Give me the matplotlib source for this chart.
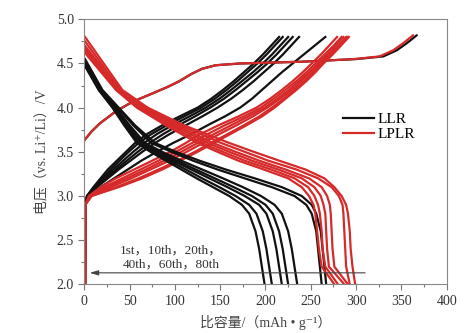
import matplotlib
matplotlib.use("Agg")
import matplotlib.pyplot as plt
from matplotlib.ticker import MultipleLocator

plt.rcParams['font.family'] = ['Liberation Serif', 'Noto Sans CJK SC', 'DejaVu Serif']

# ── Data ──────────────────────────────────────────────────────────────────────

# first charge (4.5 V plateau), capacity / voltage
first_chg_v = [3.63, 3.73, 3.82, 3.96, 4.07, 4.16, 4.23, 4.30, 4.38, 4.44, 4.48,
               4.50, 4.52, 4.55, 4.58, 4.65, 4.73, 4.82]
llr_first_chg_cap = [0, 8, 17, 35, 54, 75, 91, 105, 118, 130, 145,
                     172, 240, 300, 330, 345, 356, 367]
lplr_first_chg_cap = [0, 8, 17, 35, 54, 75, 91, 105, 118, 130, 145,
                      172, 240, 298, 326, 341, 352, 363]

# later charges: capacity at each voltage of chg_v
chg_v = [2.0, 2.9, 3.0, 3.1, 3.2, 3.3, 3.4, 3.5, 3.6, 3.7, 3.8, 3.9,
         4.0, 4.1, 4.2, 4.3, 4.4, 4.5, 4.6, 4.7, 4.8]
llr_chg_cap = [
    [0.8, 1, 3, 10, 18, 26, 36, 46, 56, 69, 86, 105, 125, 140, 153, 165, 176, 187, 197, 206, 215],
    [0.8, 1, 3, 11, 20, 29, 39, 49, 60, 74, 91, 110, 129, 144, 157, 169, 180, 191, 201, 210, 219],
    [0.8, 1, 3, 12, 22, 32, 43, 54, 66, 80, 97, 116, 134, 149, 162, 174, 186, 197, 207, 216, 225],
    [0.8, 1, 4, 13, 24, 35, 47, 59, 72, 87, 104, 122, 139, 154, 167, 179, 191, 202, 212, 221, 230],
    [0.8, 1, 4, 14, 26, 38, 51, 64, 78, 94, 112, 130, 147, 162, 175, 187, 198, 209, 219, 228, 237],
    [0.8, 1, 5, 18, 33, 48, 63, 80, 98, 118, 136, 155, 172, 185, 196, 207, 218, 230, 242, 254, 266],
]
lplr_chg_cap = [
    [0.8, 1, 5, 18, 35, 55, 75, 95, 112, 128, 148, 170, 190, 205, 218, 230, 241, 251, 261, 270, 279],
    [0.8, 1, 6, 22, 42, 62, 82, 101, 119, 136, 155, 176, 195, 209, 222, 234, 245, 255, 265, 275, 284],
    [0.8, 1, 6, 25, 47, 68, 88, 107, 125, 143, 162, 181, 199, 213, 226, 237, 248, 258, 268, 277, 286],
    [0.8, 1, 7, 29, 52, 73, 94, 113, 131, 149, 168, 186, 202, 216, 229, 240, 250, 260, 270, 280, 289],
    [0.8, 1, 8, 35, 60, 82, 103, 122, 140, 158, 176, 193, 207, 220, 232, 243, 253, 262, 272, 282, 291],
    [0.8, 1, 8, 38, 64, 86, 106, 125, 143, 161, 179, 196, 210, 222, 234, 245, 255, 264, 274, 283, 292],
]

# discharges: start voltage at 0 mAh/g, then capacity at each voltage of dis_v
dis_v = [4.2, 4.0, 3.8, 3.6, 3.5, 3.4, 3.3, 3.2, 3.1, 3.0, 2.9, 2.8, 2.6, 2.4, 2.2, 2.0]
llr_dis_start = [4.47, 4.48, 4.49, 4.50, 4.50, 4.52, 4.55]
llr_dis_cap = [
    [16, 31, 44, 58, 73, 90, 107, 124, 142, 160, 174, 182, 189, 193, 196, 199],
    [16, 32, 45, 60, 76, 94, 112, 130, 149, 167, 182, 190, 197, 201, 204, 207],
    [17, 33, 47, 62, 79, 98, 118, 138, 158, 177, 193, 201, 208, 212, 215, 218],
    [17, 34, 48, 64, 82, 102, 123, 144, 165, 185, 200, 208, 215, 219, 222, 225],
    [18, 35, 50, 67, 86, 107, 130, 153, 175, 195, 210, 218, 225, 229, 232, 235],
    [19, 37, 54, 74, 96, 120, 147, 177, 207, 232, 245, 251, 256, 258, 260, 262],
    [20, 38, 56, 78, 101, 127, 156, 188, 218, 240, 251, 256, 261, 263, 265, 267],
]
lplr_dis_start = [4.62, 4.65, 4.68, 4.70, 4.75, 4.80]
lplr_dis_cap = [
    [35, 58, 90, 125, 147, 170, 198, 225, 240, 248, 253, 255, 257, 259, 262, 276],
    [36, 60, 94, 130, 153, 177, 206, 232, 247, 254, 258, 260, 262, 263, 266, 280],
    [38, 63, 98, 136, 160, 185, 214, 240, 254, 261, 264, 266, 267, 268, 270, 287],
    [39, 65, 102, 142, 167, 193, 222, 248, 262, 268, 271, 272, 273, 274, 276, 291],
    [40, 67, 106, 151, 177, 203, 234, 258, 273, 281, 285, 286, 287, 288, 289, 293],
    [42, 70, 110, 160, 187, 215, 244, 265, 276, 284, 289, 291, 293, 294, 296, 299],
]

# ── Plot ──────────────────────────────────────────────────────────────────────

C_LLR = "#111111"
C_LPLR = "#d62a2a"
LW = 1.6

fig = plt.figure(figsize=(4.77, 3.33), dpi=100)
ax = fig.add_axes([0.1767, 0.1462, 0.7598, 0.7958])

for caps, color, first in [(llr_chg_cap, C_LLR, llr_first_chg_cap),
                           (lplr_chg_cap, C_LPLR, lplr_first_chg_cap)]:
    ax.plot(first, first_chg_v, color=color, lw=LW, solid_capstyle="round")
    for c in caps:
        ax.plot(c, chg_v, color=color, lw=LW)

for starts, caps, color in [(llr_dis_start, llr_dis_cap, C_LLR),
                            (lplr_dis_start, lplr_dis_cap, C_LPLR)]:
    for v0, c in zip(starts, caps):
        ax.plot([0.8] + c, [v0] + dis_v, color=color, lw=LW)

ax.plot([], [], color=C_LLR, lw=LW, label="LLR")
ax.plot([], [], color=C_LPLR, lw=LW, label="LPLR")
ax.legend(loc="center left", bbox_to_anchor=(0.715, 0.595), frameon=False,
          fontsize=11, handlelength=2.0, handletextpad=0.25, labelspacing=0.1,
          borderpad=0, borderaxespad=0)

ax.annotate("", xy=(3, 2.13), xytext=(313, 2.13),
            arrowprops=dict(arrowstyle="-|>,head_length=0.5,head_width=0.15",
                            color="#444444", lw=0.8))
ax.text(96, 2.305, "1st，10th，20th，\n40th，60th，80th", ha="center", va="center",
        fontsize=9.5, color="#333333", linespacing=1.2)

ax.set_xlim(0, 400)
ax.set_ylim(2.0, 5.0)
ax.xaxis.set_major_locator(MultipleLocator(50))
ax.xaxis.set_minor_locator(MultipleLocator(25))
ax.yaxis.set_major_locator(MultipleLocator(0.5))
ax.yaxis.set_minor_locator(MultipleLocator(0.25))
ax.yaxis.set_major_formatter(plt.FuncFormatter(lambda v, p: f"{v:.1f}"))
ax.tick_params(which="both", direction="out", color="#777777", labelcolor="#333333",
               labelsize=10, width=0.8)
ax.tick_params(which="major", length=4)
ax.tick_params(which="minor", length=2.5)
for s in ax.spines.values():
    s.set_color("#888888")
    s.set_linewidth(0.8)

ax.set_xlabel("比容量/（mAh • g⁻¹）", fontsize=10, color="#444444", labelpad=5)
ax.set_ylabel("电压（vs. Li⁺/Li）/V", fontsize=10, color="#444444", labelpad=6)

fig.savefig("out.png", dpi=100)
